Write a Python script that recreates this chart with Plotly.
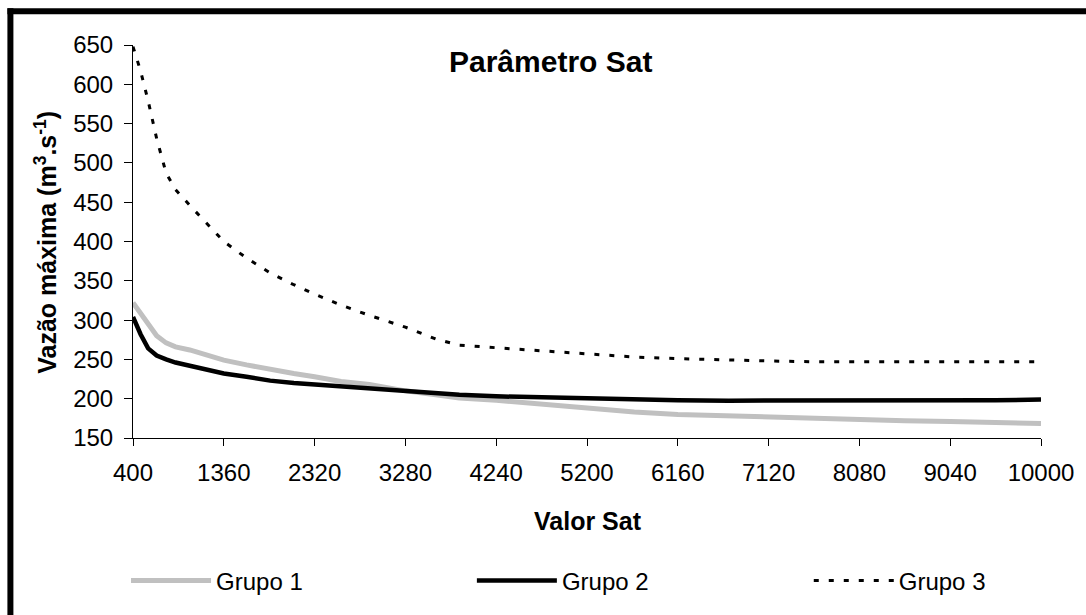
import plotly.graph_objects as go

sat_values = [400, 480, 560, 650, 750, 850, 1000, 1200, 1360, 1600, 1850, 2100, 2320,
              2600, 2900, 3280, 3600, 3850, 4240, 4700, 5200, 5700, 6160, 6700, 7120,
              7600, 8080, 8560, 9040, 9520, 10000]

grupo1 = [322, 308, 294, 280, 271, 266, 262, 255, 249, 243, 237, 232, 228,
          222, 218, 210, 205, 201, 198, 193, 187, 183, 180, 178, 176,
          174, 173, 172, 171, 170, 168.5]

grupo2 = [304, 282, 264, 255, 250, 246, 242, 237, 232, 228, 223, 220, 218,
          215, 213, 210, 207, 205, 203, 201.5, 200, 198.5, 198, 197.5, 197.5,
          197.5, 197.5, 197.5, 198, 198, 199]

grupo3 = [648, 617, 579, 531, 487, 466, 446, 420, 400, 379, 360, 345, 333,
          319, 306, 291, 276, 268, 265, 261, 257, 253, 251, 249, 248,
          247, 247, 247, 247, 247, 247]

x_ticks = [400, 1360, 2320, 3280, 4240, 5200, 6160, 7120, 8080, 9040, 10000]
y_ticks = [150, 200, 250, 300, 350, 400, 450, 500, 550, 600, 650]

FONT = "Liberation Sans, Arial, sans-serif"

W, H = 1086, 615
# plot area in screen pixels (page margin removed by the post script below)
SX0, SX1, SY0, SY1 = 133, 1044, 45, 441
L, R, T, B = SX0, W - SX1, SY0, H - SY1
pw, ph = SX1 - SX0, SY1 - SY0

def px(xs):
    return (xs - SX0) / pw

def py(ys):
    return (SY1 - ys) / ph

fig = go.Figure()
fig.add_trace(go.Scatter(x=sat_values, y=grupo1, mode="lines", name="Grupo 1",
                         line=dict(color="#C0C0C0", width=5), legend="legend"))
fig.add_trace(go.Scatter(x=sat_values, y=grupo2, mode="lines", name="Grupo 2",
                         line=dict(color="#000000", width=4.5), legend="legend2"))
fig.add_trace(go.Scatter(x=sat_values, y=grupo3, mode="lines", name="Grupo 3",
                         line=dict(color="#000000", width=3, dash="5px,10px"),
                         legend="legend3"))

def leg(xs):
    return dict(orientation="h", x=px(xs), y=py(585), xanchor="left", yanchor="middle",
                itemwidth=80, font=dict(size=24, family=FONT),
                bgcolor="rgba(0,0,0,0)", itemclick=False, itemdoubleclick=False)

fig.update_layout(
    width=W, height=H,
    margin=dict(l=L, r=R, t=T, b=B),
    paper_bgcolor="white", plot_bgcolor="white",
    font=dict(family=FONT, color="black", size=22),
    hovermode=False,
    showlegend=True,
    legend=leg(126),
    legend2=leg(473),
    legend3=leg(811),
    xaxis=dict(range=[400, 10000], tickmode="array", tickvals=x_ticks,
               ticktext=[str(v) for v in x_ticks],
               showline=True, linecolor="black", linewidth=1,
               ticks="outside", ticklen=7, tickcolor="black", tickwidth=1,
               showgrid=False, zeroline=False, ticklabelstandoff=6,
               tickfont=dict(size=24, family=FONT)),
    yaxis=dict(range=[150, 650], tickmode="array", tickvals=y_ticks,
               showline=True, linecolor="black", linewidth=1,
               ticks="outside", ticklen=8, tickcolor="black", tickwidth=1,
               showgrid=False, zeroline=False, ticklabelstandoff=6,
               tickfont=dict(size=24, family=FONT)),
    annotations=[
        dict(text="<b>Parâmetro Sat</b>", xref="paper", yref="paper",
             x=px(552), y=py(62), xanchor="center", yanchor="middle",
             showarrow=False, font=dict(size=30, family=FONT)),
        dict(text="<b>Vazão máxima (m<sup>3</sup>.s<sup>-1</sup>)</b>", xref="paper", yref="paper",
             x=px(46), y=py(244), xanchor="center", yanchor="middle", textangle=-90,
             showarrow=False, font=dict(size=25, family=FONT)),
        dict(text="<b>Valor Sat</b>", xref="paper", yref="paper",
             x=px(590), y=py(525), xanchor="center", yanchor="middle",
             showarrow=False, font=dict(size=25, family=FONT)),
    ],
    shapes=[
        dict(type="line", xref="paper", yref="paper",
             x0=px(7), x1=px(1100), y0=py(11), y1=py(11),
             line=dict(color="black", width=6), layer="above"),
        dict(type="line", xref="paper", yref="paper",
             x0=px(10), x1=px(10), y0=py(8), y1=py(630),
             line=dict(color="black", width=6), layer="above"),
    ],
)

fig.write_html("out.html",
               config={"displayModeBar": False, "staticPlot": False},
               post_script="document.body.style.margin='0';document.body.style.overflow='hidden';")
